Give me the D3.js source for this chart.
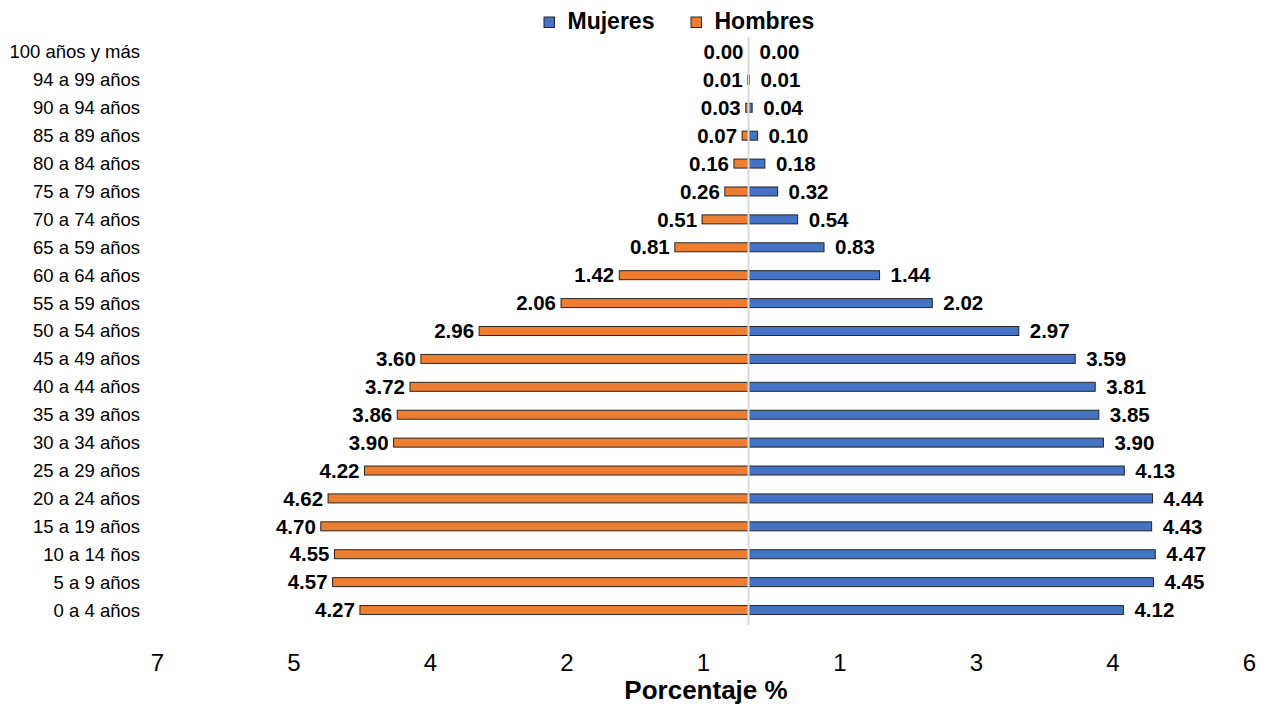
<!DOCTYPE html>
<html>
<head>
<meta charset="utf-8">
<script src="https://cdn.jsdelivr.net/npm/d3@7"></script>
<style>
  html, body { margin: 0; padding: 0; background: #fff; }
  svg { display: block; }
  text { font-family: "Liberation Sans", Arial, sans-serif; fill: #000; }
</style>
</head>
<body>
<svg id="chart" width="1262" height="707"></svg>
<script>
const categories = [
  "100 años y más", "94 a 99 años", "90 a 94 años", "85 a 89 años", "80 a 84 años",
  "75 a 79 años", "70 a 74 años", "65 a 59 años", "60 a 64 años", "55 a 59 años",
  "50 a 54 años", "45 a 49 años", "40 a 44 años", "35 a 39 años", "30 a 34 años",
  "25 a 29 años", "20 a 24 años", "15 a 19 años", "10 a 14 ños", "5 a 9 años", "0 a 4 años"
];
const hombres = [0.00, 0.01, 0.03, 0.07, 0.16, 0.26, 0.51, 0.81, 1.42, 2.06, 2.96, 3.60, 3.72, 3.86, 3.90, 4.22, 4.62, 4.70, 4.55, 4.57, 4.27];
const mujeres = [0.00, 0.01, 0.04, 0.10, 0.18, 0.32, 0.54, 0.83, 1.44, 2.02, 2.97, 3.59, 3.81, 3.85, 3.90, 4.13, 4.44, 4.43, 4.47, 4.45, 4.12];
const tickValues = [-6.5, -5, -3.5, -2, -0.5, 1, 2.5, 4, 5.5];
const tickLabels = ["7", "5", "4", "2", "1", "1", "3", "4", "6"];
const seriesNames = ["Mujeres", "Hombres"];
const colors = { Mujeres: "#4472C4", Hombres: "#ED7D31" };

const svg = d3.select("#chart");

const x = d3.scaleLinear().domain([-6.5, 5.5]).range([157, 1249]);
const y = d3.scaleBand().domain(categories).range([38, 624]).paddingInner(0).paddingOuter(0);
const barH = 9;
const cy = c => y(c) + y.bandwidth() / 2;

// Category labels
svg.append("g").selectAll("text").data(categories).join("text")
  .attr("x", 140)
  .attr("y", d => cy(d))
  .attr("dy", "0.35em")
  .attr("text-anchor", "end")
  .style("font-size", "18.5px")
  .text(d => d);

// Hombres bars (left)
svg.append("g").selectAll("rect").data(categories).join("rect")
  .attr("x", (d, i) => x(-hombres[i]))
  .attr("y", d => cy(d) - barH / 2)
  .attr("width", (d, i) => x(0) - x(-hombres[i]))
  .attr("height", barH)
  .attr("fill", colors.Hombres)
  .attr("stroke", (d, i) => hombres[i] > 0 ? "#262626" : "none")
  .attr("stroke-width", 1);

// Mujeres bars (right)
svg.append("g").selectAll("rect").data(categories).join("rect")
  .attr("x", x(0))
  .attr("y", d => cy(d) - barH / 2)
  .attr("width", (d, i) => x(mujeres[i]) - x(0))
  .attr("height", barH)
  .attr("fill", colors.Mujeres)
  .attr("stroke", (d, i) => mujeres[i] > 0 ? "#262626" : "none")
  .attr("stroke-width", 1);

// Value labels
svg.append("g").selectAll("text").data(categories).join("text")
  .attr("x", (d, i) => x(-hombres[i]) - 5)
  .attr("y", d => cy(d))
  .attr("dy", "0.35em")
  .attr("text-anchor", "end")
  .style("font-size", "20.5px")
  .style("font-weight", "bold")
  .text((d, i) => hombres[i].toFixed(2));

svg.append("g").selectAll("text").data(categories).join("text")
  .attr("x", (d, i) => x(mujeres[i]) + 11)
  .attr("y", d => cy(d))
  .attr("dy", "0.35em")
  .attr("text-anchor", "start")
  .style("font-size", "20.5px")
  .style("font-weight", "bold")
  .text((d, i) => mujeres[i].toFixed(2));

// Center line
svg.append("line")
  .attr("x1", x(0)).attr("x2", x(0))
  .attr("y1", 37).attr("y2", 625)
  .attr("stroke", "#d9d9d9")
  .attr("stroke-width", 2);

// X axis
const axis = d3.axisBottom(x)
  .tickValues(tickValues)
  .tickFormat((d, i) => tickLabels[i])
  .tickSize(0)
  .tickPadding(0);
const gx = svg.append("g").attr("transform", "translate(0,654)").call(axis);
gx.select(".domain").remove();
gx.selectAll("text")
  .style("font-family", "'Liberation Sans', Arial, sans-serif")
  .style("font-size", "24px")
  .attr("fill", "#000");

// Axis title
svg.append("text")
  .attr("x", 706)
  .attr("y", 699)
  .attr("text-anchor", "middle")
  .style("font-size", "26px")
  .style("font-weight", "bold")
  .text("Porcentaje %");

// Legend
const legendX = [544, 691];
const lg = svg.append("g").selectAll("g").data(seriesNames).join("g")
  .attr("transform", (d, i) => `translate(${legendX[i]},17)`);
lg.append("rect")
  .attr("width", 10.5).attr("height", 10.5)
  .attr("fill", d => colors[d])
  .attr("stroke", "#262626")
  .attr("stroke-width", 1);
lg.append("text")
  .attr("x", 23.5)
  .attr("y", 12.3)
  .style("font-size", "23px")
  .style("font-weight", "bold")
  .text(d => d);
</script>
</body>
</html>
